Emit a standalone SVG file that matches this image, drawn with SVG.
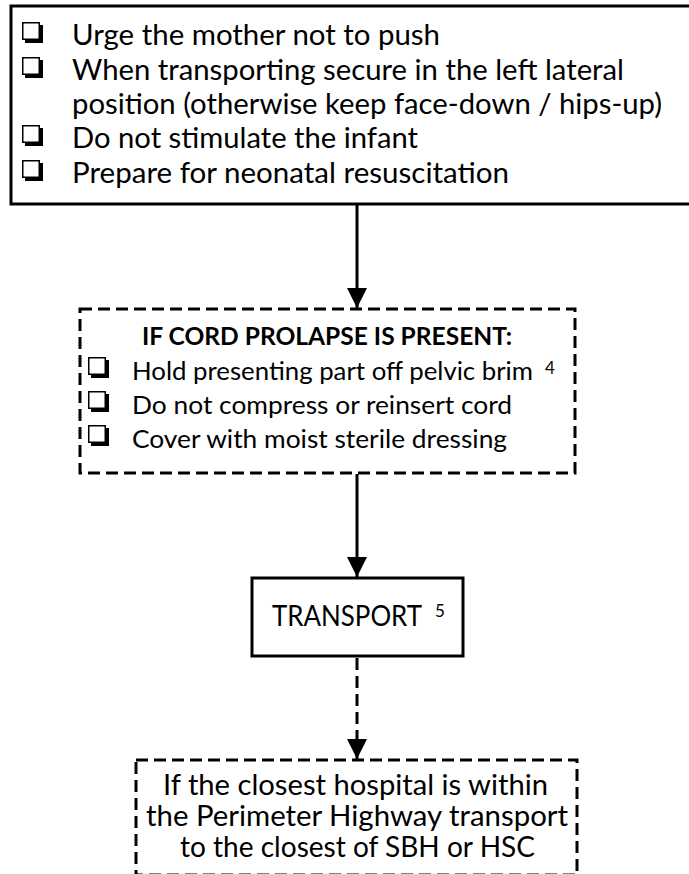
<svg xmlns="http://www.w3.org/2000/svg" width="689" height="874" viewBox="0 0 689 874">
  <style>
    .t { font-family: "Lato", "Liberation Sans", sans-serif; font-size: 28px; fill: #000; }
    .s { font-size: 25.5px; }
    .b { font-weight: bold; }
    .sup { font-size: 17px; }
    .solid { fill: #fff; stroke: #000; stroke-width: 3; }
    .dash { fill: #fff; stroke: #000; stroke-width: 3; stroke-dasharray: 12 6; }
    .edge { stroke: #000; stroke-width: 3; fill: none; }
    .edge-dash { stroke: #000; stroke-width: 3; fill: none; stroke-dasharray: 12 6; }
  </style>
  <defs>
    <!-- shadowed check box bullet -->
    <symbol id="cb" viewBox="0 0 21 21" overflow="visible">
      <path d="M3 17 V21 H21 V3 H17 V17 Z" fill="#000"/>
      <rect x="0.75" y="0.75" width="16.5" height="16.5" fill="#fff" stroke="#000" stroke-width="1.5"/>
    </symbol>
    <marker id="ah" viewBox="0 0 20 20" refX="20" refY="10" markerWidth="20" markerHeight="20" markerUnits="userSpaceOnUse" orient="auto">
      <path d="M0 0 L20 10 L0 20 Z" fill="#000"/>
    </marker>
  </defs>

  <g id="connectors">
    <line class="edge" x1="357" y1="205" x2="357" y2="308" marker-end="url(#ah)"/>
    <line class="edge" x1="357" y1="474" x2="357" y2="577" marker-end="url(#ah)"/>
    <line class="edge-dash" x1="357" y1="658" x2="357" y2="759" marker-end="url(#ah)"/>
  </g>

  <g id="prep">
    <rect class="solid" x="11" y="6" width="700" height="198"/>
    <use href="#cb" x="22" y="22" width="21" height="21"/>
    <text class="t" x="72" y="45" textLength="368" lengthAdjust="spacingAndGlyphs">Urge the mother not to push</text>
    <use href="#cb" x="22" y="57" width="21" height="21"/>
    <text class="t" x="72" y="80" textLength="552" lengthAdjust="spacingAndGlyphs">When transporting secure in the left lateral</text>
    <text class="t" x="72" y="114" textLength="590" lengthAdjust="spacingAndGlyphs">position (otherwise keep face-down / hips-up)</text>
    <use href="#cb" x="22" y="125" width="21" height="21"/>
    <text class="t" x="72" y="148" textLength="346" lengthAdjust="spacingAndGlyphs">Do not stimulate the infant</text>
    <use href="#cb" x="22" y="160" width="21" height="21"/>
    <text class="t" x="72" y="183" textLength="437" lengthAdjust="spacingAndGlyphs">Prepare for neonatal resuscitation</text>
  </g>

  <g id="cord-prolapse">
    <rect class="dash" x="80" y="309" width="495" height="164"/>
    <text class="t s b" x="142" y="345" textLength="370" lengthAdjust="spacingAndGlyphs">IF CORD PROLAPSE IS PRESENT:</text>
    <use href="#cb" x="88" y="357" width="21" height="21"/>
    <text class="t s" x="132" y="380" textLength="401" lengthAdjust="spacingAndGlyphs">Hold presenting part off pelvic brim</text>
    <text class="t sup" x="545" y="374">4</text>
    <use href="#cb" x="88" y="391" width="21" height="21"/>
    <text class="t s" x="132" y="414" textLength="380" lengthAdjust="spacingAndGlyphs">Do not compress or reinsert cord</text>
    <use href="#cb" x="88" y="425" width="21" height="21"/>
    <text class="t s" x="132" y="448" textLength="375" lengthAdjust="spacingAndGlyphs">Cover with moist sterile dressing</text>
  </g>

  <g id="transport">
    <rect class="solid" x="252" y="578" width="211" height="78"/>
    <text class="t" x="272" y="626" textLength="150" lengthAdjust="spacingAndGlyphs">TRANSPORT</text>
    <text class="t sup" x="435" y="617">5</text>
  </g>

  <g id="destination">
    <rect class="dash" x="136" y="760" width="441" height="115"/>
    <text class="t" x="163" y="795" textLength="385" lengthAdjust="spacingAndGlyphs">If the closest hospital is within</text>
    <text class="t" x="146" y="826" textLength="422" lengthAdjust="spacingAndGlyphs">the Perimeter Highway transport</text>
    <text class="t" x="180" y="857" textLength="355" lengthAdjust="spacingAndGlyphs">to the closest of SBH or HSC</text>
  </g>
</svg>
